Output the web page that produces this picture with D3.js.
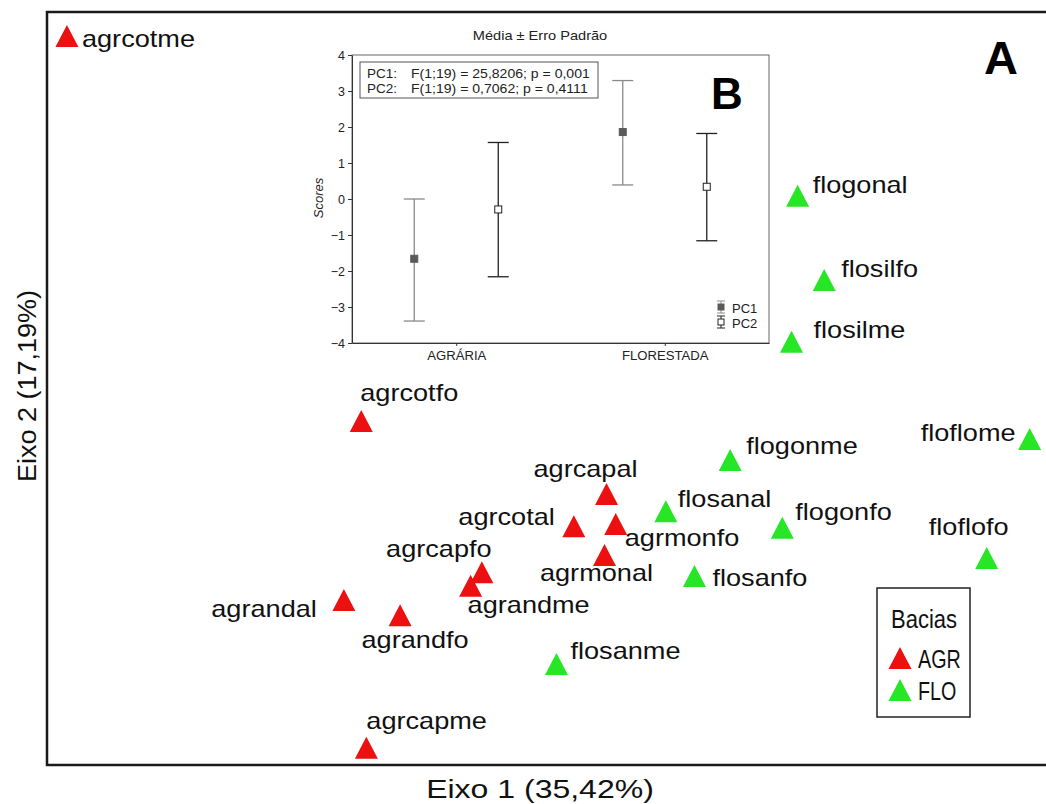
<!DOCTYPE html>
<html><head><meta charset="utf-8">
<script src="https://cdn.jsdelivr.net/npm/d3@7"></script>
<style>
body{margin:0;background:#fff}
svg{display:block}
text{font-family:"Liberation Sans",Arial,Helvetica,sans-serif}
</style>
</head><body>
<svg id="chart" width="1046" height="804"></svg>
<script>
// ---------------- DATA ----------------
// Main ordination (arbitrary score units)
const siteNames = ["agrcotme","agrcotfo","agrcapal","agrcotal","agrmonfo","agrmonal","agrcapfo","agrandme","agrandal","agrandfo","agrcapme",
                   "flogonal","flosilfo","flosilme","flogonme","floflome","flosanal","flogonfo","floflofo","flosanfo","flosanme"];
const siteGroups = ["AGR","AGR","AGR","AGR","AGR","AGR","AGR","AGR","AGR","AGR","AGR",
                    "FLO","FLO","FLO","FLO","FLO","FLO","FLO","FLO","FLO","FLO"];
const axis1Scores = [4.2,33.0,57.0,53.8,57.9,56.8,44.8,43.7,31.3,36.8,33.5,
                     75.7,78.3,75.1,69.1,98.4,62.8,74.2,94.2,65.6,52.1];
const axis2Scores = [96.8,45.7,36.0,31.7,32.0,27.9,25.6,23.8,21.9,19.9,2.3,
                     75.6,64.4,56.2,40.5,43.3,33.7,31.5,27.5,25.1,13.4];
const groupNames = ["AGR","FLO"];
const legendTitle = "Bacias";
const axis1Title = "Eixo 1 (35,42%)";
const axis2Title = "Eixo 2 (17,19%)";

// Inset (mean ± standard error)
const insetTitle = "Média ± Erro Padrão";
const insetCategories = ["AGRÁRIA","FLORESTADA"];
const pc1Mean = [-1.66, 1.86];
const pc1Low  = [-3.39, 0.39];
const pc1High = [0.00, 3.29];
const pc2Mean = [-0.29, 0.34];
const pc2Low  = [-2.16, -1.16];
const pc2High = [1.57, 1.82];
const insetTicks = [-4,-3,-2,-1,0,1,2,3,4];
const insetSeries = ["PC1","PC2"];
const statsLabels = ["PC1:","PC2:"];
const statsTexts = ["F(1;19) = 25,8206; p = 0,001","F(1;19) = 0,7062; p = 0,4111"];

// ---------------- STYLE / LAYOUT ----------------
const groupColor = {AGR:"#ec1010", FLO:"#26e626"};
// label placement: [dx, dy, anchor]
const labelPlace = {
  agrcotme:[15,2,"start"], agrcotfo:[-1,-28,"start"], agrcapal:[-21,-25,"middle"],
  agrcotal:[-19,-10,"end"], agrmonfo:[9,13,"start"], agrmonal:[-8,18,"middle"],
  agrcapfo:[-43,-24,"middle"], agrandme:[-3,19,"start"], agrandal:[-27,8,"end"],
  agrandfo:[15,24,"middle"], agrcapme:[0,-27,"start"],
  flogonal:[15,-11,"start"], flosilfo:[17,-12,"start"], flosilme:[22,-12,"start"],
  flogonme:[16,-15,"start"], floflome:[-14,-6,"end"], flosanal:[12,-13,"start"],
  flogonfo:[13,-16,"start"], floflofo:[-18,-31,"middle"], flosanfo:[18,2,"start"],
  flosanme:[14,-14,"start"]
};
function stretch(sel,k){
  sel.each(function(){
    const w=this.getComputedTextLength();
    this.setAttribute("textLength", (w*k).toFixed(1));
    this.setAttribute("lengthAdjust","spacingAndGlyphs");
  });
}
const tri = (w,h)=>`M0,${-h/2}L${w/2},${h/2}L${-w/2},${h/2}Z`;

const svg = d3.select("#chart");
svg.append("rect").attr("width",1046).attr("height",804).attr("fill","#fff");

// ---------------- MAIN PLOT ----------------
const x = d3.scaleLinear().domain([0,100]).range([24,1046]);
const y = d3.scaleLinear().domain([0,100]).range([765,12]);
const frame = {l:47,t:12,r:1052,b:765};

svg.append("rect").attr("x",frame.l).attr("y",frame.t)
  .attr("width",frame.r-frame.l).attr("height",frame.b-frame.t)
  .attr("fill","none").attr("stroke","#1a1a1a").attr("stroke-width",2.5);

const sites = siteNames.map((n,i)=>({name:n,group:siteGroups[i],a1:axis1Scores[i],a2:axis2Scores[i]}));

const gPts = svg.append("g");
gPts.selectAll("path").data(sites).join("path")
  .attr("d",tri(23,22))
  .attr("transform",d=>`translate(${x(d.a1)},${y(d.a2)})`)
  .attr("fill",d=>groupColor[d.group]);

const lbl = gPts.selectAll("text").data(sites).join("text")
  .attr("x",d=>x(d.a1)+labelPlace[d.name][0])
  .attr("y",d=>y(d.a2)+labelPlace[d.name][1])
  .attr("text-anchor",d=>labelPlace[d.name][2])
  .attr("dominant-baseline","central")
  .attr("font-size",24).attr("fill","#111")
  .text(d=>d.name);
stretch(lbl,1.13);

// axis titles
const xt = svg.append("text").attr("x",540).attr("y",789).attr("text-anchor","middle")
  .attr("dominant-baseline","central").attr("font-size",25).attr("fill","#111").text(axis1Title);
stretch(xt,1.28);
const yt = svg.append("text").attr("transform","translate(27,386) rotate(-90)").attr("text-anchor","middle")
  .attr("dominant-baseline","central").attr("font-size",25).attr("fill","#111").text(axis2Title);
stretch(yt,1.08);

// panel letter A
svg.append("text").attr("x",1001).attr("y",57).attr("text-anchor","middle")
  .attr("dominant-baseline","central").attr("font-size",47).attr("font-weight","bold").attr("fill","#000").text("A");

// legend
const lg = svg.append("g");
lg.append("rect").attr("x",877).attr("y",588).attr("width",93).attr("height",129)
  .attr("fill","#fff").attr("stroke","#222").attr("stroke-width",1.5);
const lt = lg.append("text").attr("x",924).attr("y",619).attr("text-anchor","middle")
  .attr("dominant-baseline","central").attr("font-size",25).attr("fill","#111").text(legendTitle);
stretch(lt,0.88);
const li = lg.selectAll("g.it").data(groupNames).join("g").attr("class","it")
  .attr("transform",(d,i)=>`translate(900,${658+i*32})`);
li.append("path").attr("d",tri(23,22)).attr("fill",d=>groupColor[d]);
const lit = li.append("text").attr("x",18).attr("y",1).attr("dominant-baseline","central")
  .attr("font-size",26).attr("fill","#111").text(d=>d);
stretch(lit,0.76);

// ---------------- INSET ----------------
const ib = {l:352,t:55,r:769,b:343};
const ix = d3.scalePoint().domain(insetCategories).range([ib.l,ib.r]).padding(0.5);
const iy = d3.scaleLinear().domain([-4,4]).range([ib.b,ib.t]);
const off = {PC1:-42, PC2:42};
const gi = svg.append("g");
gi.append("rect").attr("x",ib.l).attr("y",ib.t).attr("width",ib.r-ib.l).attr("height",ib.b-ib.t)
  .attr("fill","#fff").attr("stroke","#666").attr("stroke-width",1);

const ya = gi.append("g").attr("transform",`translate(${ib.l},0)`)
  .call(d3.axisLeft(iy).tickValues(insetTicks).tickSize(4).tickSizeOuter(0).tickPadding(3).tickFormat(d3.format("d")));
ya.select(".domain").attr("stroke","#333");
ya.selectAll(".tick line").attr("stroke","#333");
ya.selectAll("text").attr("font-size",12.5).attr("fill","#222").attr("font-family",null);

const xa = gi.append("g").attr("transform",`translate(0,${ib.b})`)
  .call(d3.axisBottom(ix).tickSize(3).tickSizeOuter(0).tickPadding(5));
xa.select(".domain").attr("stroke","#333");
xa.selectAll(".tick line").attr("stroke","#333");
xa.selectAll("text").attr("font-size",12.5).attr("fill","#222").attr("font-family",null);
stretch(xa.selectAll("text"),1.05);

gi.append("text").attr("transform","translate(318,198) rotate(-90)").attr("text-anchor","middle")
  .attr("dominant-baseline","central").attr("font-size",13).attr("font-style","italic").attr("fill","#222").text("Scores");
const itl = gi.append("text").attr("x",540).attr("y",35).attr("text-anchor","middle")
  .attr("dominant-baseline","central").attr("font-size",13.5).attr("fill","#222").text(insetTitle);
stretch(itl,1.08);

// stats box
gi.append("rect").attr("x",360).attr("y",62).attr("width",238).attr("height",36)
  .attr("fill","#fff").attr("stroke","#555").attr("stroke-width",1);
statsLabels.forEach((s,i)=>{
  gi.append("text").attr("x",367).attr("y",73+i*15).attr("dominant-baseline","central")
    .attr("font-size",13.5).attr("fill","#222").text(s);
  const t=gi.append("text").attr("x",411).attr("y",73+i*15).attr("dominant-baseline","central")
    .attr("font-size",13.5).attr("fill","#222").text(statsTexts[i]);
  stretch(t,1.04);
});

// panel letter B
gi.append("text").attr("x",727).attr("y",93).attr("text-anchor","middle")
  .attr("dominant-baseline","central").attr("font-size",44).attr("font-weight","bold").attr("fill","#000").text("B");

// error bars
const series = [
  {key:"PC1", mean:pc1Mean, lo:pc1Low, hi:pc1High, line:"#8a8a8a", fill:"#5a5a5a", stroke:"#5a5a5a"},
  {key:"PC2", mean:pc2Mean, lo:pc2Low, hi:pc2High, line:"#222", fill:"#fff", stroke:"#222"}
];
series.forEach(s=>{
  const g = gi.append("g");
  const pts = insetCategories.map((c,i)=>({c,m:s.mean[i],lo:s.lo[i],hi:s.hi[i]}));
  const cx = d=>ix(d.c)+off[s.key];
  g.selectAll("line.v").data(pts).join("line").attr("class","v")
    .attr("x1",cx).attr("x2",cx).attr("y1",d=>iy(d.lo)).attr("y2",d=>iy(d.hi))
    .attr("stroke",s.line).attr("stroke-width",1.3);
  ["lo","hi"].forEach(k=>{
    g.selectAll("line."+k).data(pts).join("line").attr("class",k)
      .attr("x1",d=>cx(d)-10.5).attr("x2",d=>cx(d)+10.5).attr("y1",d=>iy(d[k])).attr("y2",d=>iy(d[k]))
      .attr("stroke",s.line).attr("stroke-width",1.3);
  });
  g.selectAll("rect").data(pts).join("rect")
    .attr("x",d=>cx(d)-3.5).attr("y",d=>iy(d.m)-3.5).attr("width",7).attr("height",7)
    .attr("fill",s.fill).attr("stroke",s.stroke).attr("stroke-width",1);
});

// inset legend
const il = gi.selectAll("g.il").data(series).join("g").attr("class","il")
  .attr("transform",(d,i)=>`translate(721,${307+i*15})`);
il.append("line").attr("x1",0).attr("x2",0).attr("y1",-6).attr("y2",6).attr("stroke",d=>d.line);
il.append("line").attr("x1",-4).attr("x2",4).attr("y1",-6).attr("y2",-6).attr("stroke",d=>d.line);
il.append("line").attr("x1",-4).attr("x2",4).attr("y1",6).attr("y2",6).attr("stroke",d=>d.line);
il.append("rect").attr("x",-3).attr("y",-3).attr("width",6).attr("height",6)
  .attr("fill",d=>d.fill).attr("stroke",d=>d.stroke);
il.append("text").attr("x",11).attr("y",1).attr("dominant-baseline","central")
  .attr("font-size",13).attr("fill","#222").text(d=>d.key);
</script>
</body></html>
